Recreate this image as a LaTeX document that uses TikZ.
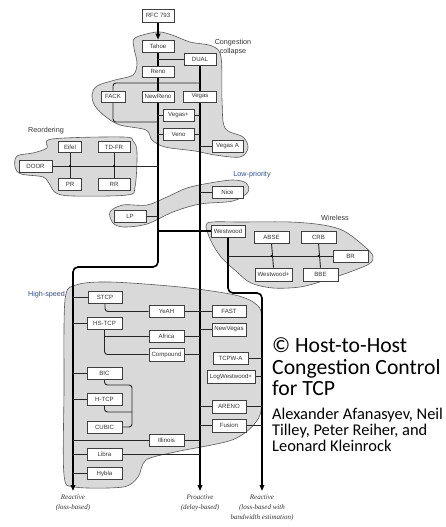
\documentclass[tikz,border=0pt]{standalone}
\usepackage{fontspec}
\setmainfont{Liberation Serif}
\setsansfont{Liberation Sans}
\newfontfamily\carl{Carlito}
\usetikzlibrary{arrows.meta,calc}
\pgfdeclarelayer{blobs}
\pgfdeclarelayer{lines}
\pgfsetlayers{blobs,lines,main}
\definecolor{lblue}{RGB}{45,75,140}
\begin{document}
\begin{tikzpicture}[x=1pt,y=-1pt,
 box/.style={draw=black!75, fill=white, line width=0.6pt, minimum height=12pt, minimum width=34pt, inner sep=0pt, font=\sffamily\fontsize{6.1}{7}\selectfont, text=black!80},
 trunk/.style={line width=1.6pt, black},
 branch/.style={line width=0.9pt, black!85},
 blob/.style={fill=black!15, draw=black!65, line width=0.6pt},
 region/.style={font=\sffamily\fontsize{7.2}{8.6}\selectfont, text=black!80, align=center},
 regionb/.style={region, text=lblue},
 foot/.style={font=\fontsize{7}{10}\selectfont\itshape, text=black!80, align=center},
 tip/.style={-{Triangle[length=6pt,width=4.5pt]}},
 jdot/.style={circle, fill=black, inner sep=0pt, minimum size=2.4pt},
 big/.style={anchor=base west, inner sep=0pt, font=\carl\fontsize{21.7}{21.7}\selectfont},
 small/.style={anchor=base west, inner sep=0pt, font=\carl\fontsize{16.4}{16.4}\selectfont}
]
\useasboundingbox (0,0) rectangle (446,527);

% trunk reference coordinates
\coordinate (tA) at (158,0);
\coordinate (tB) at (200,0);
\coordinate (tC) at (73,0);
\coordinate (tD) at (262,0);
\coordinate (endA) at (73,491);
\coordinate (endB) at (200,491);
\coordinate (endC) at (262,491);
\coordinate (bendA1) at (158,267);
\coordinate (bendA2) at (73,267);
\coordinate (bendC1) at (228,293);
\coordinate (bendC2) at (262,293);

% congestion collapse
\node[box, minimum height=13pt, minimum width=32pt] (rfc) at (158,15.5) {RFC 793};
\node[box, minimum width=32pt] (tahoe) at (158,46) {Tahoe};
\node[box, minimum width=32pt] (dual) at (200,59.5) {DUAL};
\node[box, minimum width=32pt, minimum height=11pt] (reno) at (158,71.5) {Reno};
\node[box, minimum width=24pt, minimum height=11pt] (fack) at (113,96.5) {FACK};
\node[box, minimum width=32pt, minimum height=11pt] (newreno) at (158,96.5) {NewReno};
\node[box, minimum width=33pt, minimum height=11pt] (vegas) at (200,96.5) {Vegas};
\node[box, minimum width=31pt] (vegasp) at (178.5,115.5) {Vegas+};
\node[box, minimum width=31pt] (veno) at (178.5,134) {Veno};
\node[box, minimum width=31pt] (vegasa) at (227.5,146.5) {Vegas A};
\node[region] (lcc) at (233,47) {Congestion\\collapse};

% reordering
\node[box, minimum width=23pt, minimum height=11pt] (eifel) at (70,147) {Eifel};
\node[box, minimum width=32pt, minimum height=11pt] (tdfr) at (114,147) {TD-FR};
\node[box, minimum width=33pt] (door) at (35.5,166) {DOOR};
\node[box, minimum width=23pt] (pr) at (70,184.5) {PR};
\node[box, minimum width=32pt] (rr) at (114,184.5) {RR};
\node[region] (lre) at (46,131) {Reordering};

% low priority
\node[box, minimum width=31pt] (nice) at (227.5,192) {Nice};
\node[box, minimum width=32pt] (lp) at (130,216) {LP};
\node[regionb] (llp) at (252,175) {Low-priority};

% wireless
\node[box, minimum width=34pt] (westwood) at (228,231) {Westwood};
\node[box, minimum width=35pt] (abse) at (271.5,237) {ABSE};
\node[box, minimum width=35pt] (crb) at (318.5,237) {CRB};
\node[box, minimum width=35pt] (br) at (350.5,256) {BR};
\node[box, minimum width=37pt, minimum height=13pt] (westwoodp) at (273.5,274.5) {Westwood+};
\node[box, minimum width=35pt, minimum height=13pt] (bbe) at (320.5,274.5) {BBE};
\node[region] (lwi) at (335,218) {Wireless};

% high speed
\node[box, minimum width=34pt] (stcp) at (105,297.5) {STCP};
\node[box, minimum width=35pt] (yeah) at (166.5,311.5) {YeAH};
\node[box, minimum width=34pt] (fast) at (229,311.5) {FAST};
\node[box, minimum width=35pt] (hstcp) at (104.5,323.5) {HS-TCP};
\node[box, minimum width=35pt] (africa) at (166.5,336) {Africa};
\node[box, minimum width=34pt, minimum height=13pt] (newvegas) at (229,329.5) {NewVegas};
\node[box, minimum width=35pt, minimum height=13pt] (compound) at (166.5,354.5) {Compound};
\node[box, minimum width=35pt] (tcpwa) at (230.5,358) {TCPW-A};
\node[box, minimum width=35pt] (bic) at (104.5,373) {BIC};
\node[box, minimum width=48pt, minimum height=13pt] (logw) at (231,376.5) {LogWestwood+};
\node[box, minimum width=35pt] (htcp) at (104.5,399) {H-TCP};
\node[box, minimum width=34pt, minimum height=13pt] (areno) at (229,406.5) {ARENO};
\node[box, minimum width=35pt] (cubic) at (104.5,427) {CUBIC};
\node[box, minimum width=34pt, minimum height=13pt] (fusion) at (229,425.5) {Fusion};
\node[box, minimum width=35pt] (illinois) at (166.5,440.5) {Illinois};
\node[box, minimum width=35pt] (libra) at (104.5,454) {Libra};
\node[box, minimum width=35pt] (hybla) at (104.5,473.5) {Hybla};
\node[regionb] (lhs) at (46.5,295) {High-speed};

% footer labels
\node[foot] (f1) at (73,503) {Reactive\\(loss-based)};
\node[foot] (f2) at (200,503) {Proactive\\(delay-based)};
\node[foot] (f3) at (262,507.5) {Reactive\\(loss-based with\\bandwidth estimation)};

% copyright block
\node[big] (c1) at (272,352) {© Host-to-Host};
\node[big] (c2) at (272,374) {Congestion Control};
\node[big] (c3) at (272,395.5) {for TCP};
\node[small] (a1) at (272,419) {Alexander Afanasyev, Neil};
\node[small] (a2) at (272,435) {Tilley, Peter Reiher, and};
\node[small] (a3) at (272,451) {Leonard Kleinrock};

% junction dots
\node[jdot] (d1) at (eifel.south |- door.east) {};
\node[jdot] (d2) at (tdfr.south |- door.east) {};
\node[jdot] (d3) at (abse.south |- br.west) {};
\node[jdot] (d4) at (crb.south |- br.west) {};

\begin{pgfonlayer}{blobs}
\draw[blob] plot[smooth cycle, tension=0.55] coordinates {(135,38) (157,32) (172,35) (190,42) (212,46) (221,57) (222,100) (225,128) (243,137) (248,148) (240,157) (215,155) (195,151) (165,147) (152,140) (146,130) (120,125) (106,117) (95,106) (92,95) (97,86) (115,80) (133,75) (137,63) (134,48)};
\draw[blob] plot[smooth cycle, tension=0.55] coordinates {(52,139) (123,137) (133,141) (137,152) (135,187) (127,195) (73,196) (56,193) (50,185) (43,177) (21,174) (15,167) (17,156) (33,153) (47,148)};
\draw[blob] plot[smooth cycle, tension=0.55] coordinates {(110,212) (113,223) (124,227) (147,224) (173,212) (200,204) (233,201) (248,192) (246,183) (233,180) (210,183) (187,188) (167,197) (147,205) (123,205)};
\draw[blob] plot[smooth cycle, tension=0.55] coordinates {(206,226) (211,241) (221,257) (237,272) (251,283) (273,288) (300,287) (323,281) (347,273) (369,264) (373,256) (364,246) (344,231) (323,225) (290,222) (240,222) (212,222)};
\draw[blob] plot[smooth cycle, tension=0.5] coordinates {(65,300) (76,285) (110,282) (180,287) (235,295) (257,305) (262,322) (262,400) (256,422) (232,440) (175,452) (146,460) (138,477) (123,487) (75,487) (64,475) (64,390)};
\end{pgfonlayer}

\begin{pgfonlayer}{lines}
% trunks
\draw[trunk, tip] (rfc.south) -- (tahoe.north);
\draw[trunk, tip, rounded corners=5pt] (tahoe.south) -- (bendA1) -- (bendA2) -- (endA);
\draw[trunk, tip] (dual.south) -- (endB);
\draw[trunk] (westwood.west -| tA) -- (westwood.west);
\draw[trunk, tip, rounded corners=5pt] (westwood.south) -- (bendC1) -- (bendC2) -- (endC);
% congestion collapse
\draw[branch] (dual.west -| tA) -- (dual.west);
\draw[branch, rounded corners=3pt] (vegas.north |- 0,83) -- (fack.north |- 0,83) -- (fack.north);
\draw[branch, rounded corners=3pt] (fack.south) |- (tA |- 0,122);
\draw[branch] (vegasp.west -| tA) -- (vegasp.west);
\draw[branch] (vegasp.east) -- (vegasp.east -| tB);
\draw[branch] (veno.west -| tA) -- (veno.west);
\draw[branch] (veno.east) -- (veno.east -| tB);
\draw[branch] (vegasa.west -| tB) -- (vegasa.west);
% reordering
\draw[branch] (door.east) -- (door.east -| tA);
\draw[branch] (eifel.south) -- (pr.north);
\draw[branch] (tdfr.south) -- (rr.north);
% low priority
\draw[branch] (nice.west -| tB) -- (nice.west);
\draw[branch] (lp.east) -- (lp.east -| tA);
% wireless
\draw[branch] (br.west -| westwood.south) -- (br.west);
\draw[branch] (abse.south) -- (westwoodp.north);
\draw[branch] (crb.south) -- (bbe.north);
% high speed
\draw[branch] (stcp.west -| tC) -- (stcp.west);
\draw[branch] (hstcp.west -| tC) -- (hstcp.west);
\draw[branch] (bic.west -| tC) -- (bic.west);
\draw[branch] (htcp.west -| tC) -- (htcp.west);
\draw[branch] (libra.west -| tC) -- (libra.west);
\draw[branch] (hybla.west -| tC) -- (hybla.west);
\draw[branch] (illinois.west -| tC) -- (illinois.west);
\draw[branch] (illinois.east) -- (illinois.east -| tB);
\draw[branch] (libra.east) -- (libra.east -| tB);
\draw[branch, rounded corners=3pt] (stcp.south) |- (yeah.west);
\draw[branch] (yeah.east) -- (fast.west);
\draw[branch, rounded corners=3pt] (hstcp.south) |- (compound.west);
\draw[branch] (africa.west -| hstcp.south) -- (africa.west);
\draw[branch] (africa.east) -- (africa.east -| tB);
\draw[branch] (compound.east) -- (compound.east -| tB);
\draw[branch] (newvegas.west -| tB) -- (newvegas.west);
\draw[branch] (tcpwa.east) -- (tcpwa.east -| tD);
\draw[branch] (logw.east) -- (logw.east -| tD);
\draw[branch] (areno.west -| tB) -- (areno.west);
\draw[branch] (areno.east) -- (areno.east -| tD);
\draw[branch] (fusion.west -| tB) -- (fusion.west);
\draw[branch] (fusion.east) -- (fusion.east -| tD);
\draw[branch, rounded corners=3pt] (bic.south) -- (bic.south |- 0,385) -- (132,385) -- (132,427) -- (cubic.east);
\draw[branch, rounded corners=3pt] (htcp.south) -- (htcp.south |- 0,412) -- (132,412);
\end{pgfonlayer}
\end{tikzpicture}
\end{document}
